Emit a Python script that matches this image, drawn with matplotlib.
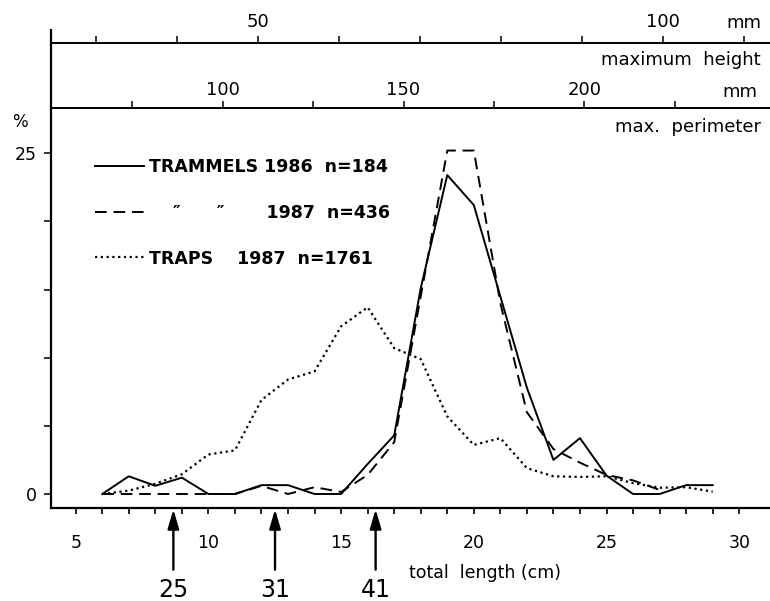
import numpy as np
import matplotlib
matplotlib.use('Agg')
import matplotlib.pyplot as plt

plt.rcParams['font.family'] = ['DejaVu Sans']

# total length classes (cm) and % frequencies
length_cm = [6, 7, 8, 9, 10, 11, 12, 13, 14, 15, 16, 17, 18, 19, 20,
             21, 22, 23, 24, 25, 26, 27, 28, 29]
trammels_1986 = [0, 1.3, 0.6, 1.2, 0, 0, 0.65, 0.65, 0, 0, 2.2, 4.3, 15.1, 23.4, 21.2,
                 14.5, 7.8, 2.5, 4.1, 1.35, 0, 0, 0.65, 0.65]
length_cm_1987 = [6, 7, 8, 9, 10, 11, 12, 13, 14, 15, 16, 17, 18, 19, 20,
                  21, 22, 23, 24, 25, 26, 27]
trammels_1987 = [0, 0, 0, 0, 0, 0, 0.6, 0, 0.5, 0.15, 1.4, 3.8, 14.5, 25.2, 25.2,
                 14.0, 6.0, 3.3, 2.3, 1.4, 1.0, 0.3]
traps_1987 = [0, 0.25, 0.75, 1.45, 2.9, 3.2, 6.9, 8.4, 9.0, 12.3, 13.7, 10.7, 9.9, 5.7, 3.6,
              4.1, 1.9, 1.3, 1.25, 1.3, 0.8, 0.46, 0.5, 0.17]

legend_labels = ['TRAMMELS 1986  n=184',
                 '    \u2033      \u2033       1987  n=436',
                 'TRAPS    1987  n=1761']

# mesh size arrows (mm) at total length (cm)
arrow_cm = [8.68, 12.51, 16.30]
arrow_labels = ['25', '31', '41']

# linear relations total length (cm) -> max height / max perimeter (mm)
HEIGHT_PER_CM, HEIGHT_OFFSET = 3.2765, 11.15
PERIM_PER_CM, PERIM_OFFSET = 7.3396, 22.65


def cm_to_height(c):
    return HEIGHT_OFFSET + HEIGHT_PER_CM * np.asarray(c)


def height_to_cm(h):
    return (np.asarray(h) - HEIGHT_OFFSET) / HEIGHT_PER_CM


def cm_to_perim(c):
    return PERIM_OFFSET + PERIM_PER_CM * np.asarray(c)


def perim_to_cm(p):
    return (np.asarray(p) - PERIM_OFFSET) / PERIM_PER_CM


W, H = 770, 601
AX_L, AX_R, AX_T, AX_B = 50.7, 770, 108.3, 507.7

fig = plt.figure(figsize=(W / 100, H / 100), dpi=100)
ax = fig.add_axes([AX_L / W, 1 - AX_B / H, (AX_R - AX_L) / W, (AX_B - AX_T) / H])


def ax_x(px):
    return (px - AX_L) / (AX_R - AX_L)


def ax_y(py):
    return (AX_B - py) / (AX_B - AX_T)


def px_text(x, y, s, **kw):
    fig.text(x / W, 1 - y / H, s, **kw)


# ---- curves ----
ax.plot(length_cm, trammels_1986, color='k', lw=1.4, label=legend_labels[0])
ax.plot(length_cm_1987, trammels_1987, color='k', lw=1.4, linestyle=(0, (6, 3.5)),
        label=legend_labels[1])
ax.plot(length_cm, traps_1987, color='k', lw=1.6, linestyle=(0, (1, 1.6)),
        label=legend_labels[2])

ax.set_xlim(4.058, 31.16)
ax.set_ylim(-1.005, 28.30)

# ---- frame ----
ax.spines['right'].set_visible(False)
ax.spines['top'].set_visible(False)
ax.spines['left'].set_linewidth(1.6)
ax.spines['bottom'].set_linewidth(1.6)
ax.plot([0, 0], [1, ax_y(29)], transform=ax.transAxes, color='k', lw=1.6,
        clip_on=False, solid_capstyle='butt')

ax.set_xticks([5, 10, 15, 20, 25, 30])
ax.set_xticks([c for c in range(6, 31) if c % 5], minor=True)
ax.set_yticks([0, 25])
ax.set_yticks([5, 10, 15, 20], minor=True)
ax.tick_params(axis='x', which='both', direction='out', length=4, width=1.2,
               labelsize=12.5, pad=15)
ax.tick_params(axis='y', which='both', direction='out', length=5, width=1.1,
               labelsize=12.5, pad=5)

# ---- secondary scales ----
sec_p = ax.secondary_xaxis('top', functions=(cm_to_perim, perim_to_cm))
sec_p.set_xticks([100, 150, 200])
sec_p.set_xticks([75, 125, 175, 225], minor=True)
sec_p.tick_params(which='both', direction='out', length=5, width=1.1,
                  labelsize=13, pad=2)
sec_p.spines['top'].set_linewidth(1.4)

sec_h = ax.secondary_xaxis(1 + ax_y(43.3) - 1, functions=(cm_to_height, height_to_cm))
sec_h.set_xticks([50, 100])
sec_h.set_xticks([30, 40, 60, 70, 80, 90, 110], minor=True)
sec_h.tick_params(which='both', direction='out', length=5, width=1.1,
                  labelsize=13, pad=4)
sec_h.spines['top'].set_linewidth(1.4)

px_text(761, 23, 'mm', fontsize=13, ha='right', va='center')
px_text(761, 60, 'maximum  height', fontsize=13, ha='right', va='center')
px_text(757, 92, 'mm', fontsize=13, ha='right', va='center')
px_text(761, 127, 'max.  perimeter', fontsize=13, ha='right', va='center')
px_text(20, 122, '%', fontsize=12, ha='center', va='center')
px_text(409, 573, 'total  length (cm)', fontsize=12.5, ha='left', va='center')

# ---- mesh arrows ----
for pos, lab in zip(arrow_cm, arrow_labels):
    ax.annotate(lab, xy=(pos, -0.004), xycoords=('data', 'axes fraction'),
                xytext=(pos, ax_y(590)), textcoords=('data', 'axes fraction'),
                ha='center', va='center', fontsize=17, annotation_clip=False,
                arrowprops=dict(arrowstyle='-|>,head_length=0.58,head_width=0.17',
                                mutation_scale=20, lw=1.7, color='k',
                                shrinkA=4, shrinkB=0))

ax.legend(loc='upper left', bbox_to_anchor=(ax_x(95), ax_y(158)), frameon=False,
          borderpad=0, borderaxespad=0, handlelength=2.8, handletextpad=0.3,
          labelspacing=1.6, prop=dict(weight='bold', size=12.5))

fig.savefig('out.png', dpi=100, facecolor='white')
